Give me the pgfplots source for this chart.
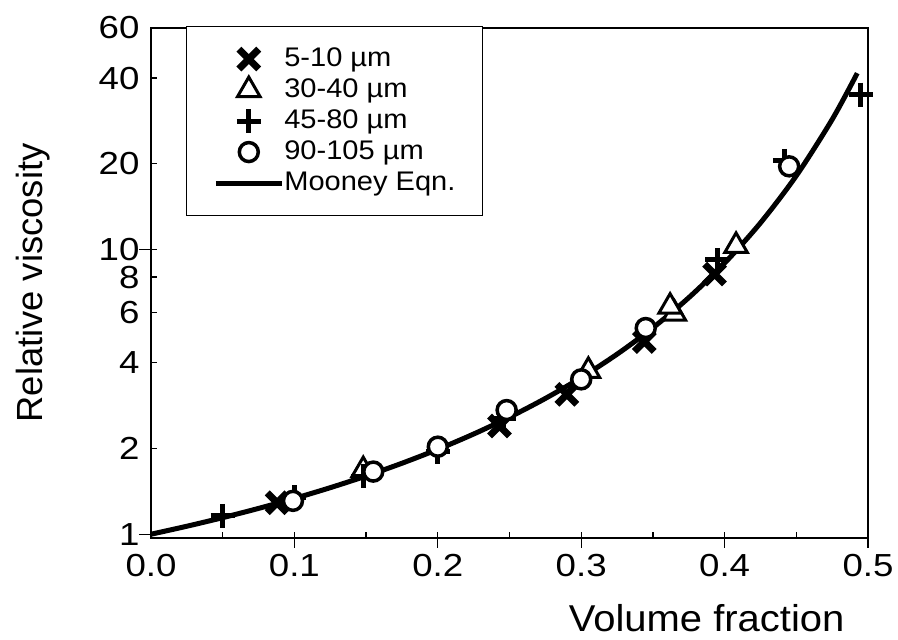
\documentclass[border=0pt]{standalone}
\usepackage{fontspec}
\setmainfont{Liberation Sans}
\usepackage{graphicx}
\usepackage{pgfplots}
\pgfplotsset{compat=1.18}
\newcommand\sx[2][1.15]{\scalebox{#1}[1]{#2}}
\begin{document}
\begin{tikzpicture}
\begin{axis}[
  scale only axis, width=717bp, height=510bp,
  xmin=0, xmax=0.5, ymode=log, ymin=0.97, ymax=60,
  axis line style={line width=1.3bp},
  every tick/.style={black, line width=1.3bp},
  tick align=inside, major tick length=6bp, minor tick length=6bp,
  xtick pos=bottom, ytick pos=left,
  xtick={0,0.1,0.2,0.3,0.4,0.5},
  xticklabels={\sx{0.0},\sx{0.1},\sx{0.2},\sx{0.3},\sx{0.4},\sx{0.5}},
  minor xtick={0.05,0.15,0.25,0.35,0.45},
  ytick={1,2,4,6,8,10,20,40,60},
  yticklabels={\sx{1},\sx{2},\sx{4},\sx{6},\sx{8},\sx{10},\sx{20},\sx{40},\sx{60}},
  yminorticks=false,
  extra x ticks={0.1,0.2,0.3,0.4,0.5}, extra x tick labels={},
  extra x tick style={tick align=outside, major tick length=10bp},
  extra y ticks={1,10}, extra y tick labels={},
  extra y tick style={tick align=outside, major tick length=12bp},
  ticklabel style={font=\fontsize{32}{32}\selectfont},
  yticklabel style={xshift=-8bp},
  xticklabel style={yshift=-13bp},
  xlabel={\sx[1.07]{Volume fraction}},
  xlabel style={at={(axis description cs:0.775,-0.157)}, anchor=center, font=\fontsize{37.5}{40}\selectfont},
  ylabel={Relative viscosity},
  ylabel style={at={(axis description cs:-0.1646,0.5)}, anchor=center, font=\fontsize{36.5}{40}\selectfont},
  legend image code/.code={\path[draw=none, fill=none] (0bp,-15.5bp) rectangle (66bp,15.5bp);
    \draw[mark repeat=2,mark phase=2,#1] plot coordinates {(0bp,0bp) (33bp,0bp) (66bp,0bp)};},
  legend cell align=left,
  legend style={at={(axis description cs:0.0484,1.004)}, anchor=north west, draw=black, line width=1.2bp, fill=white,
    inner xsep=27bp, inner ysep=17bp, row sep=0bp, font=\fontsize{27}{30}\selectfont,
    nodes={inner sep=0bp, text height=19bp, text depth=5bp},
    /tikz/every even column/.append style={column sep=7bp}},
]
\coordinate (sw) at (rel axis cs:0,0);
% Mooney equation curve
\addplot[black, line width=5bp, smooth, forget plot] coordinates {
(0,1) (0.025,1.0668) (0.05,1.1435) (0.075,1.2322) (0.1,1.3356) (0.125,1.4572)
(0.15,1.6018) (0.175,1.7756) (0.2,1.9874) (0.225,2.2490) (0.25,2.5779)
(0.275,2.9989) (0.3,3.5499) (0.325,4.2892) (0.35,5.3114) (0.375,6.7752)
(0.4,8.962) (0.425,12.402) (0.45,18.166) (0.475,28.63) (0.4925,41.63)};
% 5-10 um
\addplot[only marks, mark=x, mark size=14bp, mark options={line width=7bp, black}] coordinates {
(0.088,1.29) (0.243,2.4) (0.29,3.1) (0.344,4.75) (0.393,8.2)};
% 30-40 um
\addplot[only marks, mark=triangle*, mark size=13bp, mark options={fill=white, draw=black, line width=3bp}] coordinates {
(0.148,1.68) (0.305,3.75) (0.365,5.95) (0.362,6.3) (0.408,10.3)};
% 45-80 um
\addplot[only marks, mark=+, mark size=12bp, mark options={line width=5bp, black}] coordinates {
(0.05,1.16) (0.1,1.35) (0.148,1.6) (0.2,1.95) (0.246,2.55) (0.395,9.2) (0.442,20.5) (0.495,35)};
% 90-105 um
\addplot[only marks, mark=*, mark size=9.5bp, mark options={fill=white, draw=black, line width=3.5bp}] coordinates {
(0.099,1.31) (0.155,1.66) (0.2,2.03) (0.248,2.73) (0.3,3.5) (0.345,5.3) (0.445,19.6)};
\addlegendimage{black, line width=5bp}
\legend{\sx[1.08]{5-10 µm},\sx[1.08]{30-40 µm},\sx[1.08]{45-80 µm},\sx[1.08]{90-105 µm},\sx[1.08]{Mooney Eqn.}}
\end{axis}
\pgfresetboundingbox
\path (sw) ++(-151bp,-102bp) rectangle ++(898bp,640bp);
\end{tikzpicture}
\end{document}
